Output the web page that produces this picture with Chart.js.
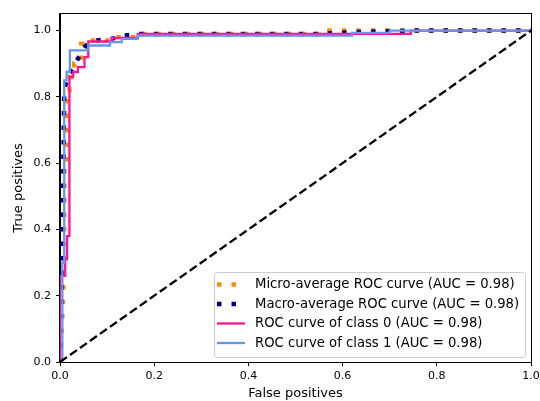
<!DOCTYPE html>
<html>
<head>
<meta charset="utf-8">
<script src="https://cdn.jsdelivr.net/npm/chart.js@4"></script>
<style>
  html, body { margin: 0; padding: 0; background: #fff; }
  canvas { display: block; }
</style>
</head>
<body>
<canvas id="roc" width="540" height="401"></canvas>
<script>
// curve data (false positive rate, true positive rate)
const microFpr = [0, 0.004, 0.009, 0.009, 0.014, 0.014, 0.02, 0.02, 0.03, 0.03, 0.045, 0.045, 0.06, 0.06, 0.11, 0.11, 0.17, 0.17, 0.55, 0.55, 1.0];
const microTpr = [0, 0.1, 0.3, 0.6, 0.6, 0.82, 0.82, 0.86, 0.86, 0.9, 0.9, 0.96, 0.96, 0.97, 0.97, 0.98, 0.98, 0.99, 0.99, 1.0, 1.0];

const macroFpr = [0, 0.005, 0.009, 0.014, 0.02, 0.028, 0.04, 0.055, 0.075, 0.11, 0.135, 0.17, 0.55, 0.62, 0.70, 0.75, 1.0];
const macroTpr = [0, 0.3, 0.82, 0.85, 0.87, 0.89, 0.92, 0.955, 0.97, 0.975, 0.985, 0.99, 0.99, 0.995, 0.998, 1.0, 1.0];

const class0Fpr = [0, 0, 0.011, 0.011, 0.015, 0.015, 0.02, 0.02, 0.028, 0.028, 0.038, 0.038, 0.052, 0.052, 0.06, 0.06, 0.11, 0.11, 0.165, 0.165, 0.745, 0.745, 1.0];
const class0Tpr = [0, 0.26, 0.26, 0.31, 0.31, 0.38, 0.38, 0.86, 0.86, 0.875, 0.875, 0.89, 0.89, 0.92, 0.92, 0.967, 0.967, 0.978, 0.978, 0.99, 0.99, 1.0, 1.0];

const class1Fpr = [0, 0.005, 0.005, 0.009, 0.009, 0.014, 0.014, 0.021, 0.021, 0.06, 0.06, 0.106, 0.106, 0.131, 0.131, 0.165, 0.165, 0.62, 0.62, 0.70, 0.70, 1.0];
const class1Tpr = [0, 0, 0.3, 0.3, 0.85, 0.85, 0.875, 0.875, 0.94, 0.94, 0.955, 0.955, 0.965, 0.965, 0.975, 0.975, 0.985, 0.985, 0.993, 0.993, 1.0, 1.0];

const chanceFpr = [0, 1];
const chanceTpr = [0, 1];

const tickValues = [0, 0.2, 0.4, 0.6, 0.8, 1.0];

const labels = [
    'Micro-average ROC curve (AUC = 0.98)',
    'Macro-average ROC curve (AUC = 0.98)',
    'ROC curve of class 0 (AUC = 0.98)',
    'ROC curve of class 1 (AUC = 0.98)'
];

function toPoints(xs, ys) {
    return xs.map(function (x, i) { return { x: x, y: ys[i] }; });
}

const FONT = 'DejaVu Sans';
const TICK_SIZE = 11;
const LABEL_SIZE = 13;
const LEGEND_SIZE = 13.2;

// draws the top/right spines on top of the curves
const frame = {
    id: 'frame',
    afterDatasetsDraw(chart) {
        const a = chart.chartArea, ctx = chart.ctx;
        ctx.save();
        ctx.strokeStyle = '#000';
        ctx.lineWidth = 1;
        ctx.strokeRect(Math.round(a.left) - 0.5, Math.round(a.top) - 0.5,
            Math.round(a.right - a.left) + 1, Math.round(a.bottom - a.top) + 1);
        ctx.restore();
    }
};

// legend box in the lower right corner of the plot
const cornerLegend = {
    id: 'cornerLegend',
    afterDraw(chart) {
        const a = chart.chartArea, ctx = chart.ctx;
        const w = 311, h = 85;
        const left = a.right - 6 - w, top = a.bottom - 5 - h;
        ctx.save();
        ctx.beginPath();
        ctx.roundRect(left + 0.5, top + 0.5, w, h, 3);
        ctx.fillStyle = 'rgba(255,255,255,0.8)';
        ctx.fill();
        ctx.strokeStyle = '#cccccc';
        ctx.lineWidth = 1;
        ctx.stroke();

        ctx.font = LEGEND_SIZE + 'px "' + FONT + '"';
        ctx.textBaseline = 'middle';
        ctx.textAlign = 'left';
        for (let i = 0; i < labels.length; i++) {
            const ds = chart.data.datasets[i];
            const y = top + 12.5 + i * 19.5;
            ctx.beginPath();
            ctx.setLineDash(ds.borderDash || []);
            ctx.lineCap = 'butt';
            ctx.strokeStyle = ds.borderColor;
            ctx.lineWidth = ds.borderWidth;
            ctx.moveTo(left + 3, y);
            ctx.lineTo(left + 31, y);
            ctx.stroke();
            ctx.setLineDash([]);
            ctx.fillStyle = '#000';
            ctx.fillText(labels[i], left + 41, y + 0.5);
        }
        ctx.restore();
    }
};

const config = {
    type: 'scatter',
    data: {
        datasets: [
            {
                label: labels[0],
                data: toPoints(microFpr, microTpr),
                borderColor: '#ff8c00',
                borderWidth: 4.5,
                borderDash: [4.5, 10],
                order: 5
            },
            {
                label: labels[1],
                data: toPoints(macroFpr, macroTpr),
                borderColor: '#000080',
                borderWidth: 4.5,
                borderDash: [4.5, 10],
                order: 4
            },
            {
                label: labels[2],
                data: toPoints(class0Fpr, class0Tpr),
                borderColor: '#ff1493',
                borderWidth: 2.3,
                order: 3
            },
            {
                label: labels[3],
                data: toPoints(class1Fpr, class1Tpr),
                borderColor: '#6495ed',
                borderWidth: 2.3,
                order: 2
            },
            {
                label: 'chance',
                data: toPoints(chanceFpr, chanceTpr),
                borderColor: '#000',
                borderWidth: 2.3,
                borderDash: [8.5, 3.7],
                order: 1
            }
        ]
    },
    options: {
        responsive: false,
        animation: false,
        devicePixelRatio: 1,
        showLine: true,
        layout: { padding: { left: 0, right: 9, top: 14, bottom: 0 } },
        elements: {
            point: { radius: 0, hoverRadius: 0 },
            line: { tension: 0, fill: false }
        },
        plugins: {
            legend: { display: false },
            tooltip: { enabled: false }
        },
        scales: {
            x: {
                type: 'linear',
                min: 0,
                max: 1,
                afterBuildTicks: function (scale) {
                    scale.ticks = tickValues.map(function (v) { return { value: v }; });
                },
                afterFit: function (scale) {
                    scale.height = 39;
                    scale.paddingLeft = 0;
                    scale.paddingRight = 0;
                },
                grid: { drawOnChartArea: false, drawTicks: true, tickLength: 4, color: '#000' },
                border: { display: true, color: '#000', width: 1 },
                ticks: {
                    color: '#000',
                    padding: 4,
                    maxRotation: 0,
                    font: { family: FONT, size: TICK_SIZE },
                    callback: function (v) { return Number(v).toFixed(1); }
                },
                title: {
                    display: true,
                    text: 'False positives',
                    color: '#000',
                    font: { family: FONT, size: LABEL_SIZE },
                    padding: { top: 0, bottom: 0 }
                }
            },
            y: {
                type: 'linear',
                min: 0,
                max: 1.05,
                afterBuildTicks: function (scale) {
                    scale.ticks = tickValues.map(function (v) { return { value: v }; });
                },
                afterFit: function (scale) { scale.width = 60; },
                grid: { drawOnChartArea: false, drawTicks: true, tickLength: 4, color: '#000' },
                border: { display: true, color: '#000', width: 1 },
                ticks: {
                    color: '#000',
                    padding: 5,
                    font: { family: FONT, size: TICK_SIZE },
                    callback: function (v) { return Number(v).toFixed(1); }
                },
                title: {
                    display: true,
                    text: 'True positives',
                    color: '#000',
                    font: { family: FONT, size: LABEL_SIZE },
                    padding: { top: 11, bottom: 0 }
                }
            }
        }
    },
    plugins: [frame, cornerLegend]
};

const chart = new Chart(document.getElementById('roc'), config);
</script>
</body>
</html>
